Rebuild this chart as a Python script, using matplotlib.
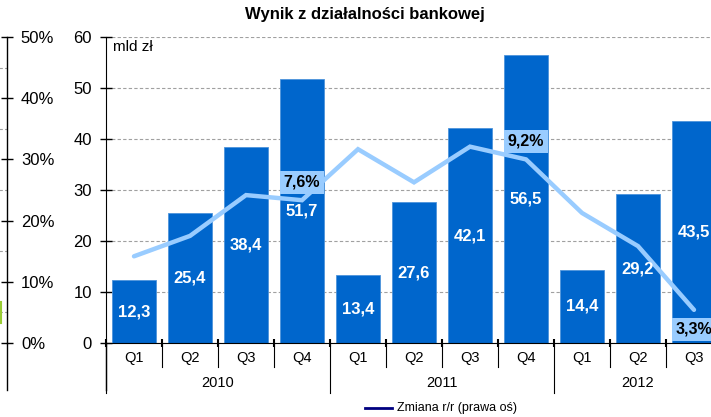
import matplotlib
matplotlib.use("Agg")
import matplotlib.pyplot as plt
import numpy as np
from matplotlib.lines import Line2D

plt.rcParams['font.family'] = ['Liberation Sans', 'DejaVu Sans']

# data
quarters = ["Q1", "Q2", "Q3", "Q4", "Q1", "Q2", "Q3", "Q4", "Q1", "Q2", "Q3"]
years = ["2010", "2011", "2012"]
year_spans = [(0, 3), (4, 7), (8, 10)]
result_bn = [12.3, 25.4, 38.4, 51.7, 13.4, 27.6, 42.1, 56.5, 14.4, 29.2, 43.5]
change_yoy = [5.4, 6.2, 7.8, 7.6, 9.6, 8.3, 9.7, 9.2, 7.1, 5.8, 3.3]
labelled_points = [3, 7, 10]

W, H = 711, 417
BAR = "#0066CC"
LINE = "#99CCFF"


def fx(px):
    return px / W


def fy(py):
    return 1 - py / H


fig = plt.figure(figsize=(W / 100, H / 100), dpi=100)

# remnant of the neighbouring chart on the left (its right-hand % axis)
ax0 = fig.add_axes([-0.3, fy(343), 0.3 + fx(7), 306 / H])
ax0.set_ylim(0, 0.5)
ax0.set_xlim(0, 1)
ax0.patch.set_visible(False)
for s in ["left", "top", "bottom"]:
    ax0.spines[s].set_visible(False)
ax0.spines["right"].set_linewidth(1)
ax0.set_xticks([])
ax0.yaxis.tick_right()
ax0.set_yticks(np.arange(0, 0.51, 0.1))
ax0.set_yticklabels([f"{int(round(t * 100))}%" for t in np.arange(0, 0.51, 0.1)])
ax0.tick_params(axis="y", direction="inout", length=8, width=1, labelsize=12, pad=6)
for g in np.arange(0.05, 0.5, 0.1):
    ax0.axhline(g, color="#A0A0A0", lw=0.8, ls=(0, (3, 2)))
ax0.plot([1, 1], [0, -0.154], transform=ax0.transAxes, color="black", lw=1, clip_on=False)
fig.add_artist(Line2D([fx(1), fx(1)], [fy(323), fy(302)], color="#99CC33", lw=1.5))

# main chart
ax = fig.add_axes([fx(106), fy(343), 616 / W, 306 / H])
x = np.arange(len(result_bn))
ax.bar(x, result_bn, width=0.77, color=BAR, edgecolor="#4D94DB", lw=0.6, zorder=2)
ax.set_xlim(-0.5, len(result_bn) - 0.5)
ax.set_ylim(0, 60)
ax.set_yticks(range(0, 61, 10))
ax.yaxis.grid(True, color="#A0A0A0", lw=0.8, ls=(0, (3, 2)))
ax.set_axisbelow(True)
for s in ["top", "right"]:
    ax.spines[s].set_visible(False)
ax.tick_params(axis="y", direction="inout", length=8, width=1, labelsize=12, pad=6)

ax.set_xticks(x)
ax.set_xticklabels(quarters)
ax.tick_params(axis="x", which="major", length=0, labelsize=10.5, pad=6)
bounds = np.arange(-0.5, len(result_bn), 1.0)
ax.set_xticks(bounds, minor=True)
ax.tick_params(axis="x", which="minor", direction="inout", length=6, width=1.5)

xt = ax.get_xaxis_transform()
year_bounds = [s - 0.5 for s, _ in year_spans]
for b in bounds:
    depth = -0.163 if b in year_bounds else -0.078
    ax.plot([b, b], [0, depth], transform=xt, color="black", lw=0.8, clip_on=False)
ax.plot([-0.5, -0.5], [0, -0.154], transform=xt, color="black", lw=1, clip_on=False)
for yr, (s, e) in zip(years, year_spans):
    ax.text((s + e) / 2, -0.131, yr, transform=xt, ha="center", va="center", fontsize=10.5)

ax.text(0.011, 0.967, "mld zł", transform=ax.transAxes, ha="left", va="center", fontsize=11)

# y/y change on a hidden right-hand axis
ax2 = ax.twinx()
ax2.set_ylim(2, 14)
ax2.set_axis_off()
ax2.plot(x, change_yoy, color=LINE, lw=3.2, solid_joinstyle="miter", solid_capstyle="round", zorder=3)

for xi, v in zip(x, result_bn):
    ax2.text(xi, v / 2, f"{v:.1f}".replace(".", ","), transform=ax.transData,
             ha="center", va="center", color="white", fontsize=12, fontweight="bold", zorder=4)

for i in labelled_points:
    v = change_yoy[i]
    dy = -14 if i == len(change_yoy) - 1 else 13
    ax2.annotate(f"{v:.1f}%".replace(".", ","), xy=(i, v), xytext=(0, dy), textcoords="offset points",
                 ha="center", va="center", fontsize=11.5, fontweight="bold", color="black",
                 bbox=dict(boxstyle="square,pad=0.25", fc=LINE, ec="none"), zorder=5)

fig.text(0.5127, fy(15), "Wynik z działalności bankowej", ha="center", va="center",
         fontsize=12, fontweight="bold")

# legend (only the visible entry)
fig.add_artist(Line2D([fx(365), fx(392)], [fy(408), fy(408)], color="#000080", lw=2))
fig.text(fx(397), fy(408), "Zmiana r/r (prawa oś)", ha="left", va="center", fontsize=9)

fig.savefig("out.png", dpi=100)
